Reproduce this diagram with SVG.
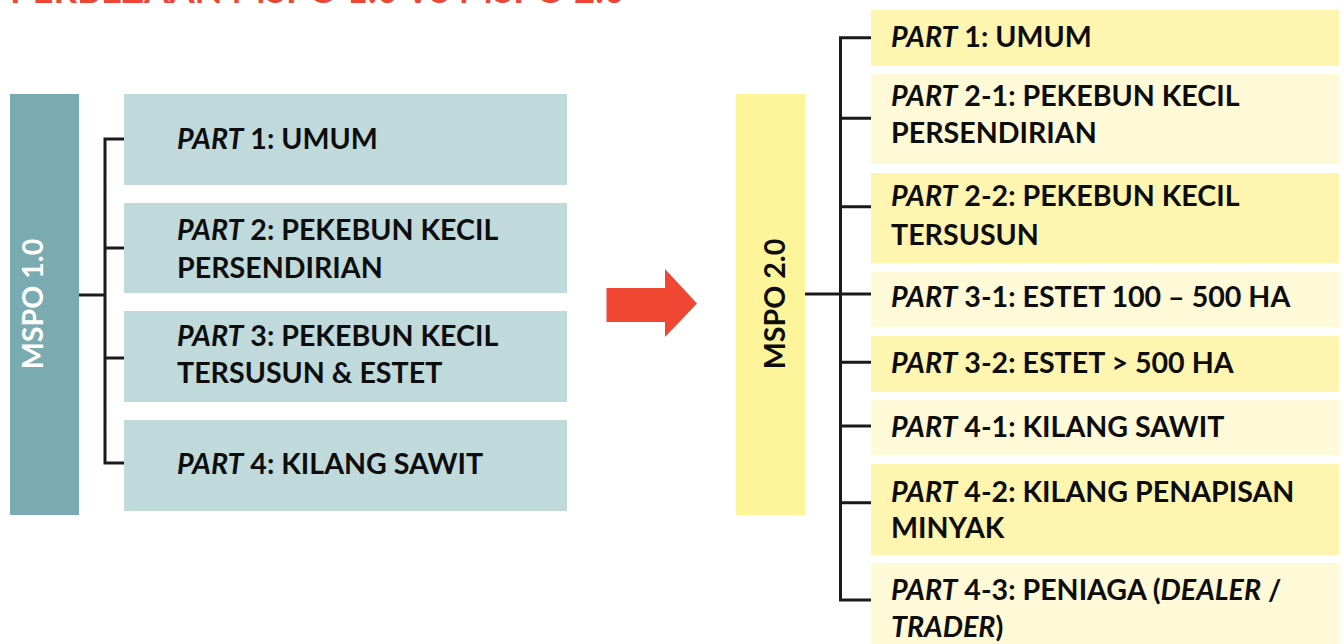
<svg xmlns="http://www.w3.org/2000/svg" width="1344" height="644" viewBox="0 0 1344 644">
<style>
.t{font-family:Lato,"Open Sans","Liberation Sans",sans-serif;font-weight:bold;font-size:28.6px;fill:#0d0d0d}
.i{font-style:italic}
.c{fill:none;stroke:#1a1a1a;stroke-width:3}
.lb{fill:#c0d9db}
.ry{fill:#fef6b0}
.rl{fill:#fef9d6}
</style>
<rect width="1344" height="644" fill="#ffffff"/>
<text x="10" y="2.5" font-family="Lato,'Liberation Sans',sans-serif" font-weight="bold" font-size="38" fill="#ef4535" textLength="615" lengthAdjust="spacingAndGlyphs">PERBEZAAN MSPO 1.0 VS MSPO 2.0</text>

<g id="connectors">
<path class="c" d="M79,295 H105 M124,139 H105 V463 H124 M105,248 H124 M105,358 H124"/>
<path class="c" d="M805,294 H871 M871,37.7 H840.5 V600 H871 M840.5,118.3 H871 M840.5,206.7 H871 M840.5,362.3 H871 M840.5,426 H871 M840.5,502.7 H871"/>
</g>

<g id="arrow">
<polygon points="606.5,288 665,288 665,269 697,303.5 665,337 665,322 606.5,322" fill="#f04733"/>
</g>

<g id="mspo1">
<rect x="10" y="94" width="69" height="421" fill="#7aabb1"/>
<text transform="translate(43,304) rotate(-90)" text-anchor="middle" font-family="Lato,'Liberation Sans',sans-serif" font-weight="bold" font-size="28.6" fill="#ffffff">MSPO 1.0</text>
</g>
<g id="l1"><rect class="lb" x="124" y="94" width="443" height="91"/><text class="t" x="177" y="149"><tspan class="i">PART</tspan> 1: UMUM</text></g>
<g id="l2"><rect class="lb" x="124" y="203" width="443" height="90"/><text class="t" x="177" y="240"><tspan class="i">PART</tspan> 2: PEKEBUN KECIL</text><text class="t" x="177" y="278">PERSENDIRIAN</text></g>
<g id="l3"><rect class="lb" x="124" y="311" width="443" height="91"/><text class="t" x="177" y="346"><tspan class="i">PART</tspan> 3: PEKEBUN KECIL</text><text class="t" x="177" y="383">TERSUSUN &amp; ESTET</text></g>
<g id="l4"><rect class="lb" x="124" y="420" width="443" height="91"/><text class="t" x="177" y="474"><tspan class="i">PART</tspan> 4: KILANG SAWIT</text></g>

<g id="mspo2">
<rect x="736" y="94" width="69" height="421" fill="#fef59b"/>
<text transform="translate(785,304) rotate(-90)" text-anchor="middle" font-family="Lato,'Liberation Sans',sans-serif" font-weight="bold" font-size="28.6" fill="#0d0d0d">MSPO 2.0</text>
</g>
<g id="r1"><rect class="ry" x="871" y="10" width="468" height="56"/><text class="t" x="891" y="47"><tspan class="i">PART</tspan> 1: UMUM</text></g>
<g id="r2"><rect class="rl" x="871" y="74" width="468" height="90"/><text class="t" x="891" y="106"><tspan class="i">PART</tspan> 2-1: PEKEBUN KECIL</text><text class="t" x="891" y="143">PERSENDIRIAN</text></g>
<g id="r3"><rect class="ry" x="871" y="173" width="468" height="90"/><text class="t" x="891" y="206"><tspan class="i">PART</tspan> 2-2: PEKEBUN KECIL</text><text class="t" x="891" y="245">TERSUSUN</text></g>
<g id="r4"><rect class="rl" x="871" y="272" width="468" height="55"/><text class="t" x="891" y="307"><tspan class="i">PART</tspan> 3-1: ESTET 100 – 500 HA</text></g>
<g id="r5"><rect class="ry" x="871" y="336" width="468" height="56"/><text class="t" x="891" y="373"><tspan class="i">PART</tspan> 3-2: ESTET &gt; 500 HA</text></g>
<g id="r6"><rect class="rl" x="871" y="400" width="468" height="55"/><text class="t" x="891" y="437"><tspan class="i">PART</tspan> 4-1: KILANG SAWIT</text></g>
<g id="r7"><rect class="ry" x="871" y="464" width="468" height="91"/><text class="t" x="891" y="502"><tspan class="i">PART</tspan> 4-2: KILANG PENAPISAN</text><text class="t" x="891" y="538">MINYAK</text></g>
<g id="r8"><rect class="rl" x="871" y="563" width="468" height="81"/><text class="t" x="891" y="600"><tspan class="i">PART</tspan> 4-3: PENIAGA (<tspan class="i">DEALER</tspan> /</text><text class="t" x="891" y="637"><tspan class="i">TRADER</tspan>)</text></g>
</svg>
